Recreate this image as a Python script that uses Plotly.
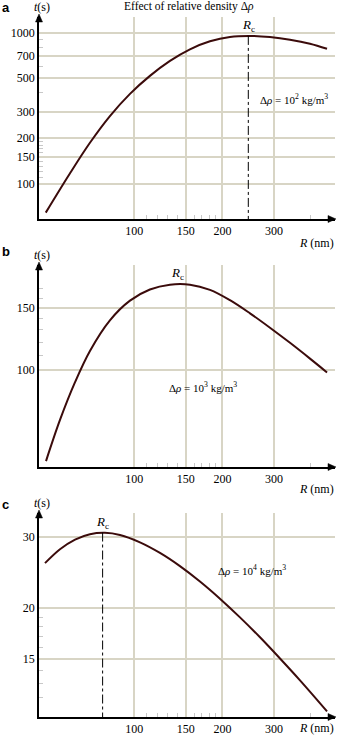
import numpy as np
import plotly.graph_objects as go

# ---- data ----
R_a = [49.9, 60.3, 70.6, 82.6, 96.7, 113.1, 132.4, 154.9, 181.3, 212.1, 248.3, 290.5, 340.0, 397.8, 454.8]
t_a = [64.3, 116.8, 186.6, 280.4, 393.3, 517.5, 650.6, 776.6, 877.0, 938.0, 952.4, 935.2, 898.6, 845.6, 782.4]

R_b = [50.0, 55.8, 62.8, 70.6, 82.6, 96.7, 113.1, 132.4, 154.9, 181.3, 212.1, 248.3, 290.5, 340.0, 397.8, 454.8]
t_b = [55.1, 72.1, 92.3, 113.2, 138.3, 157.3, 169.2, 174.6, 174.6, 168.8, 157.8, 144.8, 131.8, 119.4, 107.7, 98.4]

R_c = [49.6, 55.8, 62.8, 70.6, 79.4, 89.4, 104.6, 122.4, 143.2, 167.6, 196.1, 229.5, 268.6, 314.3, 367.8, 454.8]
t_c = [25.86, 28.0, 29.59, 30.51, 30.76, 30.38, 29.13, 27.42, 25.43, 23.29, 21.11, 18.97, 16.93, 15.0, 13.24, 11.09]

Rc_vals = [245, 141, 78]
tc_vals = [952, 175, 30.8]
show_rc_line = [True, False, True]
rho_exp = ["2", "3", "4"]
letters = ["a", "b", "c"]

x_ticks = [100, 150, 200, 300]
x_minor = [110, 120, 130, 140, 160, 170, 180, 190, 400]
y_ticks = [[100, 150, 200, 300, 500, 700, 1000], [100, 150], [15, 20, 30]]
y_minor = [[110, 120, 130, 140, 160, 170, 180, 190, 400, 600, 800, 900],
           [110, 120, 130, 140, 160, 170],
           [12, 13, 14, 16, 17, 18, 19]]

# ---- layout geometry (pixels) ----
W, H = 337, 744
x_left, x_right = 39, 335
panels_px = [(17, 219), (265, 467), (513, 717)]  # top, bottom
xtitle_offset = [24, 22, 11]
letter_y = [8, 252, 505]
x_range = [1.675, 2.685]
y_ranges = [[1.766, 3.104], [1.7244, 2.298], [1.031, 1.537]]

curve_color = "#3b0b0b"
grid_color = "#d8d5c5"
serif = "Liberation Serif"


def px_x(p):
    return p / W


def px_y(p):
    return 1 - p / H


fig = go.Figure()
layout = dict(width=W, height=H, margin=dict(l=0, r=0, t=0, b=0),
              paper_bgcolor="white", plot_bgcolor="white", showlegend=False)

annotations = []
shapes = []
series = [(R_a, t_a), (R_b, t_b), (R_c, t_c)]

for i, (R, t) in enumerate(series):
    n = "" if i == 0 else str(i + 1)
    xa, ya = "x" + n, "y" + n
    top, bot = panels_px[i]
    fig.add_trace(go.Scatter(x=R, y=t, mode="lines", xaxis=xa, yaxis=ya,
                             line=dict(color=curve_color, width=2, shape="spline", smoothing=1.0),
                             hoverinfo="skip"))
    if show_rc_line[i]:
        fig.add_trace(go.Scatter(x=[Rc_vals[i], Rc_vals[i]], y=[tc_vals[i], 1],
                                 mode="lines", xaxis=xa, yaxis=ya,
                                 line=dict(color="black", width=1, dash="dashdot"),
                                 hoverinfo="skip"))
    layout["xaxis" + n] = dict(
        type="log", range=x_range, domain=[px_x(x_left), px_x(x_right)],
        anchor=ya, showline=True, linecolor="black", linewidth=1.5,
        tickmode="array", tickvals=x_ticks, ticktext=[str(v) for v in x_ticks],
        ticks="", showgrid=True, gridcolor=grid_color, gridwidth=1.5,
        tickfont=dict(family=serif, size=12, color="black"),
        minor=dict(tickmode="array", tickvals=x_minor, ticks="inside", ticklen=4,
                   tickcolor="#c8c8c8", tickwidth=1, showgrid=False),
        zeroline=False, fixedrange=True)
    layout["yaxis" + n] = dict(
        type="log", range=y_ranges[i], domain=[px_y(bot), px_y(top)],
        anchor=xa, showline=True, linecolor="black", linewidth=1.5,
        tickmode="array", tickvals=y_ticks[i], ticktext=[str(v) for v in y_ticks[i]],
        ticks="", showgrid=True, gridcolor=grid_color, gridwidth=1.5,
        tickfont=dict(family=serif, size=12, color="black"),
        minor=dict(tickmode="array", tickvals=y_minor[i], ticks="inside", ticklen=4,
                   tickcolor="#c8c8c8", tickwidth=1, showgrid=False),
        zeroline=False, fixedrange=True)

    # axis arrowheads (triangles)
    tip_x, yb = x_right + 1, bot
    shapes.append(dict(type="path", xref="paper", yref="paper",
                       path=f"M {px_x(tip_x)} {px_y(yb)} L {px_x(tip_x - 8)} {px_y(yb - 3.5)} "
                            f"L {px_x(tip_x - 8)} {px_y(yb + 3.5)} Z",
                       fillcolor="black", line=dict(color="black", width=0.5)))
    tip_y = top - 3
    shapes.append(dict(type="path", xref="paper", yref="paper",
                       path=f"M {px_x(x_left)} {px_y(tip_y)} L {px_x(x_left - 3.5)} {px_y(tip_y + 8)} "
                            f"L {px_x(x_left + 3.5)} {px_y(tip_y + 8)} Z",
                       fillcolor="black", line=dict(color="black", width=0.5)))
    shapes.append(dict(type="line", xref="paper", yref="paper",
                       x0=px_x(x_left), x1=px_x(x_left), y0=px_y(top), y1=px_y(tip_y + 6),
                       line=dict(color="black", width=1.5)))
    # panel letter
    annotations.append(dict(xref="paper", yref="paper", x=0, y=px_y(letter_y[i]),
                            xanchor="left", yanchor="middle", showarrow=False,
                            text="<b>" + letters[i] + "</b>",
                            font=dict(family="Liberation Sans", size=13, color="black")))
    # y-axis title
    annotations.append(dict(xref="paper", yref="paper", x=px_x(42), y=px_y(top - 10),
                            xanchor="center", yanchor="middle", showarrow=False,
                            text="<i>t</i>(s)",
                            font=dict(family=serif, size=12, color="black")))
    # x-axis title
    annotations.append(dict(xref="paper", yref="paper", x=px_x(336), y=px_y(bot + xtitle_offset[i]),
                            xanchor="right", yanchor="middle", showarrow=False,
                            text="<i>R</i> (nm)",
                            font=dict(family=serif, size=12, color="black")))
    # Rc label
    annotations.append(dict(xref=xa, yref=ya, x=np.log10(Rc_vals[i]), y=np.log10(tc_vals[i]),
                            xanchor="center", yanchor="bottom", showarrow=False, yshift=0,
                            text="<i>R</i><sub>c</sub>",
                            font=dict(family=serif, size=13, color="black")))

# density labels
rho_pos = [(258, 99), (167, 387), (216, 570)]
for i, (px, py) in enumerate(rho_pos):
    annotations.append(dict(xref="paper", yref="paper", x=px_x(px), y=px_y(py),
                            xanchor="left", yanchor="middle", showarrow=False,
                            text="Δ<i>ρ</i> = 10<sup>" + rho_exp[i] + "</sup> kg/m<sup>3</sup>",
                            font=dict(family=serif, size=11, color="black")))

# title
annotations.append(dict(xref="paper", yref="paper", x=px_x(189), y=px_y(7),
                        xanchor="center", yanchor="middle", showarrow=False,
                        text="Effect of relative density Δ<i>ρ</i>",
                        font=dict(family=serif, size=11.5, color="black")))

layout["annotations"] = annotations
layout["shapes"] = shapes
fig.update_layout(**layout)
fig.write_html("out.html", config={"displayModeBar": False},
               post_script="document.body.style.margin='0px';document.body.style.overflow='hidden';")
